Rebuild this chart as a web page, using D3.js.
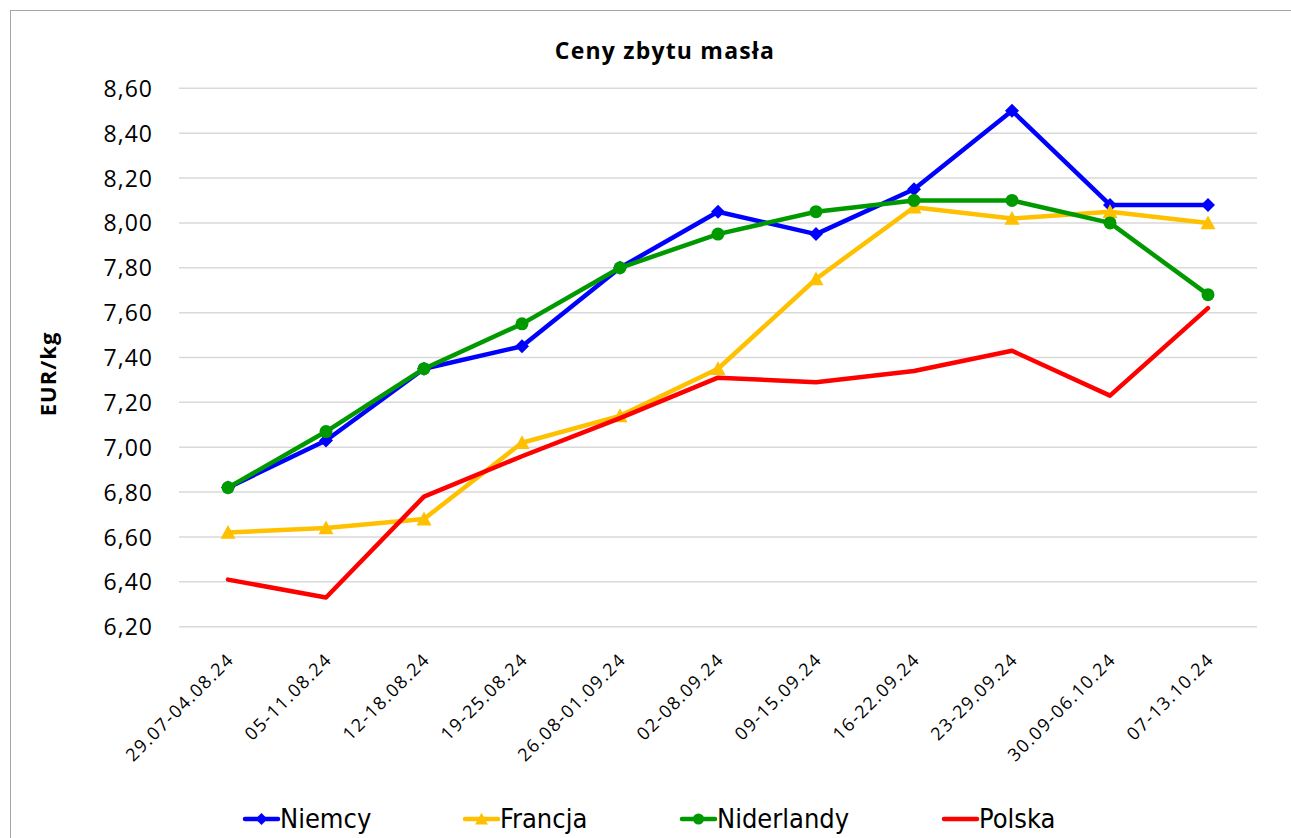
<!DOCTYPE html>
<html>
<head>
<meta charset="utf-8">
<script src="https://cdn.jsdelivr.net/npm/d3@7"></script>
<style>
  html, body { margin: 0; padding: 0; background: #fff; }
  svg { display: block; }
</style>
</head>
<body>
<svg id="chart" width="1291" height="838"></svg>
<script>
const categories = ["29.07-04.08.24","05-11.08.24","12-18.08.24","19-25.08.24","26.08-01.09.24","02-08.09.24","09-15.09.24","16-22.09.24","23-29.09.24","30.09-06.10.24","07-13.10.24"];
const niemcy     = [6.82, 7.03, 7.35, 7.45, 7.80, 8.05, 7.95, 8.15, 8.50, 8.08, 8.08];
const francja    = [6.62, 6.64, 6.68, 7.02, 7.14, 7.35, 7.75, 8.07, 8.02, 8.05, 8.00];
const niderlandy = [6.82, 7.07, 7.35, 7.55, 7.80, 7.95, 8.05, 8.10, 8.10, 8.00, 7.68];
const polska     = [6.41, 6.33, 6.78, 6.96, 7.13, 7.31, 7.29, 7.34, 7.43, 7.23, 7.62];
const yTicks     = [6.2, 6.4, 6.6, 6.8, 7.0, 7.2, 7.4, 7.6, 7.8, 8.0, 8.2, 8.4, 8.6];
const seriesNames = ["Niemcy", "Francja", "Niderlandy", "Polska"];
const title = "Ceny zbytu masła";
const yTitle = "EUR/kg";

const series = [
  {name: seriesNames[0], values: niemcy, color: "#0000FF", marker: "diamond"},
  {name: seriesNames[1], values: francja, color: "#FFC000", marker: "triangle"},
  {name: seriesNames[2], values: niderlandy, color: "#009900", marker: "circle"},
  {name: seriesNames[3], values: polska, color: "#FF0000", marker: null}
];

const svg = d3.select("#chart");
const font = "'Open Sans', 'Noto Sans', sans-serif";

// outer border
svg.append("rect").attr("x", 10.5).attr("y", 10.5).attr("width", 1300).attr("height", 850)
  .attr("fill", "none").attr("stroke", "#A6A6A6").attr("stroke-width", 1);

const plot = {left: 179, right: 1257, top: 88.3, bottom: 626.7};

const x = d3.scaleBand().domain(categories).range([plot.left, plot.right]).padding(0);
const cx = d => x(d) + x.bandwidth() / 2;
const y = d3.scaleLinear().domain([6.2, 8.6]).range([plot.bottom, plot.top]);

// gridlines
svg.append("g").selectAll("line").data(yTicks).join("line")
  .attr("x1", plot.left).attr("x2", plot.right)
  .attr("y1", d => y(d)).attr("y2", d => y(d))
  .attr("stroke", "#D9D9D9").attr("stroke-width", 1.5);

// y axis labels
const yAxis = d3.axisLeft(y).tickValues(yTicks).tickSize(0).tickPadding(0)
  .tickFormat(d => d3.format(".2f")(d).replace(".", ","));
const yg = svg.append("g").attr("transform", `translate(153,0)`).call(yAxis);
yg.select(".domain").remove();
yg.selectAll("text").attr("font-family", font).attr("font-size", 23).attr("fill", "#000")
  .attr("letter-spacing", 1).attr("dy", "0.35em");

// x axis labels
const xAxis = d3.axisBottom(x).tickSize(0).tickPadding(0);
const xg = svg.append("g").attr("transform", `translate(0,${plot.bottom})`).call(xAxis);
xg.select(".domain").remove();
xg.selectAll(".tick text")
  .attr("font-family", font).attr("font-size", 18).attr("fill", "#000")
  .attr("letter-spacing", 1.5)
  .attr("text-anchor", "end")
  .attr("dy", 0).attr("y", 0)
  .attr("transform", "translate(7,34) rotate(-45)");

// title
svg.append("text").attr("x", 665).attr("y", 59).attr("text-anchor", "middle")
  .attr("font-family", font).attr("font-weight", "bold").attr("font-size", 23)
  .attr("letter-spacing", 1.2)
  .attr("fill", "#000").text(title);

// y title
svg.append("text").attr("transform", "translate(56,374) rotate(-90)").attr("text-anchor", "middle")
  .attr("font-family", font).attr("font-weight", "bold").attr("font-size", 22)
  .attr("letter-spacing", 1)
  .attr("fill", "#000").text(yTitle);

// lines
const line = d3.line().x((d, i) => cx(categories[i])).y(d => y(d));

function drawMarker(g, type, color, px, py, scale) {
  const s = scale || 1;
  if (type === "diamond") {
    const r = 7 * s;
    g.append("path").attr("d", `M${px},${py - r}L${px + r},${py}L${px},${py + r}L${px - r},${py}Z`).attr("fill", color);
  } else if (type === "triangle") {
    const r = 7.5 * s;
    g.append("path").attr("d", `M${px},${py - r}L${px + r},${py + r * 0.85}L${px - r},${py + r * 0.85}Z`).attr("fill", color);
  } else if (type === "circle") {
    g.append("circle").attr("cx", px).attr("cy", py).attr("r", 6.5 * s).attr("fill", color);
  }
}

series.forEach(s => {
  const g = svg.append("g");
  g.append("path").datum(s.values).attr("d", line).attr("fill", "none")
    .attr("stroke", s.color).attr("stroke-width", 4.5).attr("stroke-linejoin", "round").attr("stroke-linecap", "round");
  if (s.marker) {
    s.values.forEach((v, i) => drawMarker(g, s.marker, s.color, cx(categories[i]), y(v)));
  }
});

// legend
const legendX = [245, 465, 682, 944];
const legendY = 819;
series.forEach((s, i) => {
  const g = svg.append("g");
  g.append("line").attr("x1", legendX[i]).attr("x2", legendX[i] + 33)
    .attr("y1", legendY).attr("y2", legendY)
    .attr("stroke", s.color).attr("stroke-width", 4.5).attr("stroke-linecap", "round");
  if (s.marker) drawMarker(g, s.marker, s.color, legendX[i] + 16.5, legendY, 0.85);
  g.append("text").attr("x", legendX[i] + 35).attr("y", legendY + 9)
    .attr("font-family", "'Liberation Sans Narrow', 'DejaVu Sans Condensed', 'Liberation Sans', sans-serif")
    .attr("font-size", 27).attr("fill", "#000").text(s.name);
});
</script>
</body>
</html>
